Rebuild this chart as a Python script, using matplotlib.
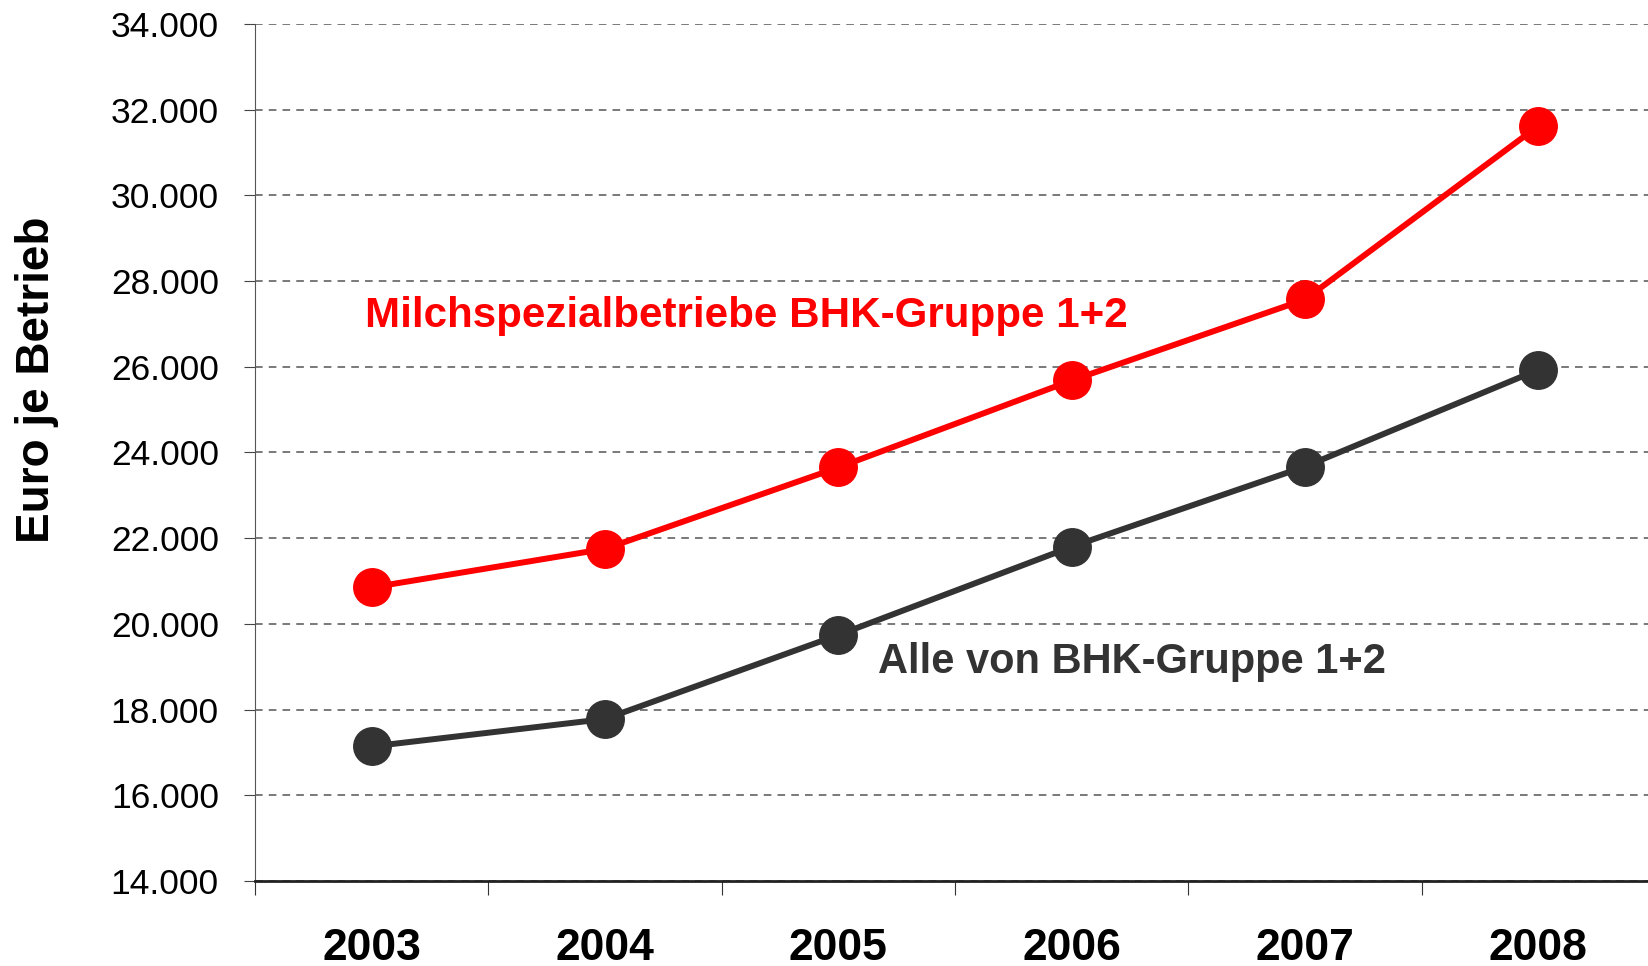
import matplotlib
matplotlib.use('Agg')
import matplotlib.pyplot as plt
from matplotlib.ticker import FixedLocator, FuncFormatter

plt.rcParams['font.family'] = ['Liberation Sans', 'DejaVu Sans']

# data
years = ['2003', '2004', '2005', '2006', '2007', '2008']
milch = [20850, 21750, 23650, 25680, 27570, 31620]
alle = [17140, 17780, 19740, 21800, 23670, 25930]
y_ticks = [14000, 16000, 18000, 20000, 22000, 24000, 26000, 28000, 30000, 32000, 34000]

RED = '#ff0000'
DARK = '#333333'

fig = plt.figure(figsize=(16.48, 9.66), dpi=100)
ax = fig.add_axes([0.1547, 0.088, 0.8495, 0.8872])

x = list(range(len(years)))
ax.plot(x, milch, '-o', color=RED, lw=4.3, ms=27, zorder=3)
ax.plot(x, alle, '-o', color=DARK, lw=4.3, ms=27, zorder=3)

ax.set_xlim(-0.5, 5.5)
ax.set_ylim(14000, 34000)
ax.set_yticks(y_ticks)
ax.yaxis.set_major_formatter(FuncFormatter(lambda v, p: '{:,.0f}'.format(v).replace(',', '.')))
ax.set_xticks(x)
ax.set_xticklabels(years, fontsize=32, fontweight='bold')
ax.xaxis.set_minor_locator(FixedLocator([i - 0.5 for i in range(len(years) + 1)]))
ax.tick_params(axis='x', which='major', length=0, pad=34)
ax.tick_params(axis='x', which='minor', length=10, width=0.8, color='#333333', direction='out')
ax.tick_params(axis='y', which='major', length=8, width=0.8, color='#444444', labelsize=25.5, pad=18)

ax.grid(axis='y', linestyle=(0, (5, 4)), color='#555555', lw=1.1, zorder=1)
for s in ['top', 'right']:
    ax.spines[s].set_visible(False)
ax.spines['left'].set_color('#555555')
ax.spines['left'].set_linewidth(0.8)
ax.spines['bottom'].set_color('#222222')
ax.spines['bottom'].set_linewidth(2)
ax.spines['bottom'].set_zorder(4)

ax.text(-0.03, 27180, 'Milchspezialbetriebe BHK-Gruppe 1+2', color=RED,
        fontsize=30.3, fontweight='bold', va='center', ha='left')
ax.text(2.17, 19100, 'Alle von BHK-Gruppe 1+2', color=DARK,
        fontsize=30, fontweight='bold', va='center', ha='left')

fig.text(0.0225, 1 - 380 / 966, 'Euro je Betrieb', rotation=90, fontsize=33,
         fontweight='bold', va='center', ha='center')

fig.savefig('out.png', dpi=100)
